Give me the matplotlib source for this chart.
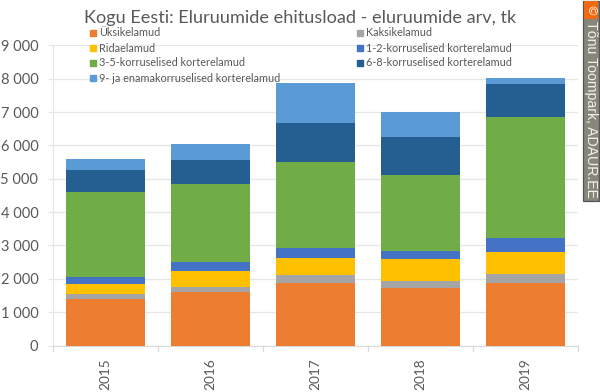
import numpy as np
import matplotlib
matplotlib.use("Agg")
import matplotlib.pyplot as plt
from matplotlib.patches import Rectangle

plt.rcParams['font.family'] = ['Lato', 'DejaVu Sans']

years = ['2015', '2016', '2017', '2018', '2019']
yksik = [1385, 1604, 1883, 1733, 1873]
kaksik = [160, 140, 230, 200, 270]
rida = [307, 489, 519, 660, 660]
k12 = [201, 270, 300, 240, 430]
k35 = [2562, 2337, 2568, 2277, 3627]
k68 = [645, 710, 1170, 1130, 970]
k9 = [320, 480, 1207, 760, 200]

names = ['Üksikelamud', 'Kaksikelamud', 'Ridaelamud', '1-2-korruselised korterelamud',
         '3-5-korruselised korterelamud', '6-8-korruselised korterelamud',
         '9- ja enamakorruselised korterelamud']
series = [yksik, kaksik, rida, k12, k35, k68, k9]
colors = ['#ED7D31', '#A5A5A5', '#FFC000', '#4472C4', '#70AD47', '#255E91', '#5B9BD5']

W, H = 600, 392
fig = plt.figure(figsize=(6, 3.92), dpi=100)
ax = fig.add_axes([53 / W, 1 - 345.5 / H, 525 / W, 300.2 / H])

x = np.arange(len(years))
bottom = np.zeros(len(years))
for vals, c in zip(series, colors):
    ax.bar(x, vals, width=0.76, bottom=bottom, color=c, zorder=3)
    bottom += np.array(vals)

ax.set_xlim(-0.5, 4.5)
ax.set_ylim(0, 9000)
ax.set_yticks(range(0, 9001, 1000))
ax.set_yticklabels([f'{v:,}'.replace(',', ' ') for v in range(0, 9001, 1000)],
                   fontsize=10.5, color='#595959')
ax.set_xticks(x)
ax.set_xticklabels(years, rotation=90, fontsize=9.8, color='#595959')
ax.grid(axis='y', color='#E6E6E6', lw=0.9, zorder=0)
ax.set_axisbelow(True)
for s in ['top', 'right']:
    ax.spines[s].set_visible(False)
ax.spines['left'].set_color('#E6E6E6')
ax.spines['bottom'].set_color('#D9D9D9')
ax.tick_params(axis='x', length=0, pad=9)
ax.tick_params(axis='y', length=3.6, color='#E6E6E6', pad=7, width=0.9)
for v in np.arange(-0.5, 5):
    ax.plot([v, v], [0, -0.019], transform=ax.get_xaxis_transform(),
            color='#D9D9D9', lw=0.9, clip_on=False)

# legend is placed by hand, two columns over the plot
lx = [90, 357]
ly = [33, 48, 63, 78]
for i, (name, c) in enumerate(zip(names, colors)):
    px, py = lx[i % 2], ly[i // 2]
    fig.add_artist(Rectangle((px / W, 1 - (py + 3) / H), 6 / W, 6 / H,
                             transform=fig.transFigure, color=c))
    fig.text((px + 9) / W, 1 - py / H, name, fontsize=7.8, color='#595959', va='center')

fig.text(300 / W, 1 - 17.5 / H, 'Kogu Eesti: Eluruumide ehitusload - eluruumide arv, tk',
         fontsize=13.1, color='#595959', ha='center', va='center')

# watermark on the right edge
fig.add_artist(Rectangle((582.5 / W, 1 - 200.5 / H), 16 / W, 200 / H, transform=fig.transFigure,
                         facecolor='#86867A', edgecolor='#555555', lw=0.9))
fig.add_artist(Rectangle((584 / W, 1 - 19 / H), 13.5 / W, 18 / H, transform=fig.transFigure,
                         facecolor='#F26A0F', edgecolor='none'))
fig.text(590.7 / W, 1 - 10 / H, '©', fontsize=8.5, color='white', rotation=270,
         ha='center', va='center')
fig.text(590.7 / W, 1 - 21 / H, 'Tõnu Toompark, ADAUR.EE', fontsize=10.2, color='#F2F2EE',
         rotation=270, ha='center', va='top', family=['Liberation Sans', 'DejaVu Sans'])

fig.savefig('out.png', dpi=100)
